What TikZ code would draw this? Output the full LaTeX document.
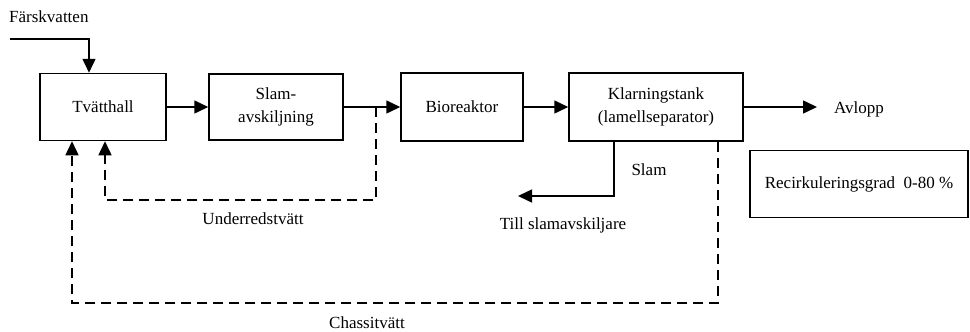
\documentclass[tikz,border=0pt]{standalone}
\usepackage{fontspec}
\setmainfont{Liberation Serif}
\usetikzlibrary{arrows.meta}

\tikzstyle{block} = [draw, line width=1.5pt, inner sep=2pt, align=center, font=\fontsize{17}{23}\selectfont]
\tikzstyle{label} = [inner sep=1pt, font=\fontsize{17}{23}\selectfont]
\tikzstyle{flow} = [line width=1.5pt, -{Triangle[length=14pt,width=13pt]}]
\tikzstyle{back} = [flow, dash pattern=on 10pt off 6pt]

\begin{document}
\begin{tikzpicture}[x=1pt,y=-1pt]
      \useasboundingbox (0,0) rectangle (970,332);
      \node[block, minimum width=126, minimum height=67] (tv) at (103,107) {Tvätthall};
      \node[block, minimum width=134, minimum height=66] (sa) at (276,107) {Slam-\\avskiljning};
      \node[block, minimum width=122, minimum height=68] (bio) at (462,107) {Bioreaktor};
      \node[block, minimum width=174, minimum height=68] (kt) at (656,107) {Klarningstank\\(lamellseparator)};
      \node[block, minimum width=218, minimum height=67] (rg) at (859,184) {Recirkuleringsgrad\ \ 0-80 \%};
      \node[label, anchor=west] (fv) at (8,17) {Färskvatten};
      \node[label, anchor=west] (av) at (833,109) {Avlopp};
      \node[label] (sl) at (649,170) {Slam};
      \node[label] (ts) at (563,225) {Till slamavskiljare};
      \node[label] (uw) at (253,219) {Underredstvätt};
      \node[label] (cw) at (367,323) {Chassitvätt};
      \coordinate (in) at (10,39);
      \coordinate (out) at (817,107);
      \coordinate (sd) at (518,196);
      \coordinate (ub) at (376,107);
      \coordinate (uc) at (376,200);
      \coordinate (cc) at (718,303);
      % main line
      \draw[flow] (in) -| ([xshift=-14]tv.north);
      \draw[flow] (tv) -- (sa);
      \draw[flow] (sa) -- (bio);
      \draw[flow] (bio) -- (kt);
      \draw[flow] (kt.east |- out) -- (out);
      \draw[flow] ([xshift=-42]kt.south) |- (sd);
      % recirculation
      \draw[back] (ub) -- (uc) -| ([xshift=2]tv.south);
      \draw[back] ([xshift=62]kt.south) |- (cc) -| ([xshift=-31]tv.south);
    \end{tikzpicture}
\end{document}
